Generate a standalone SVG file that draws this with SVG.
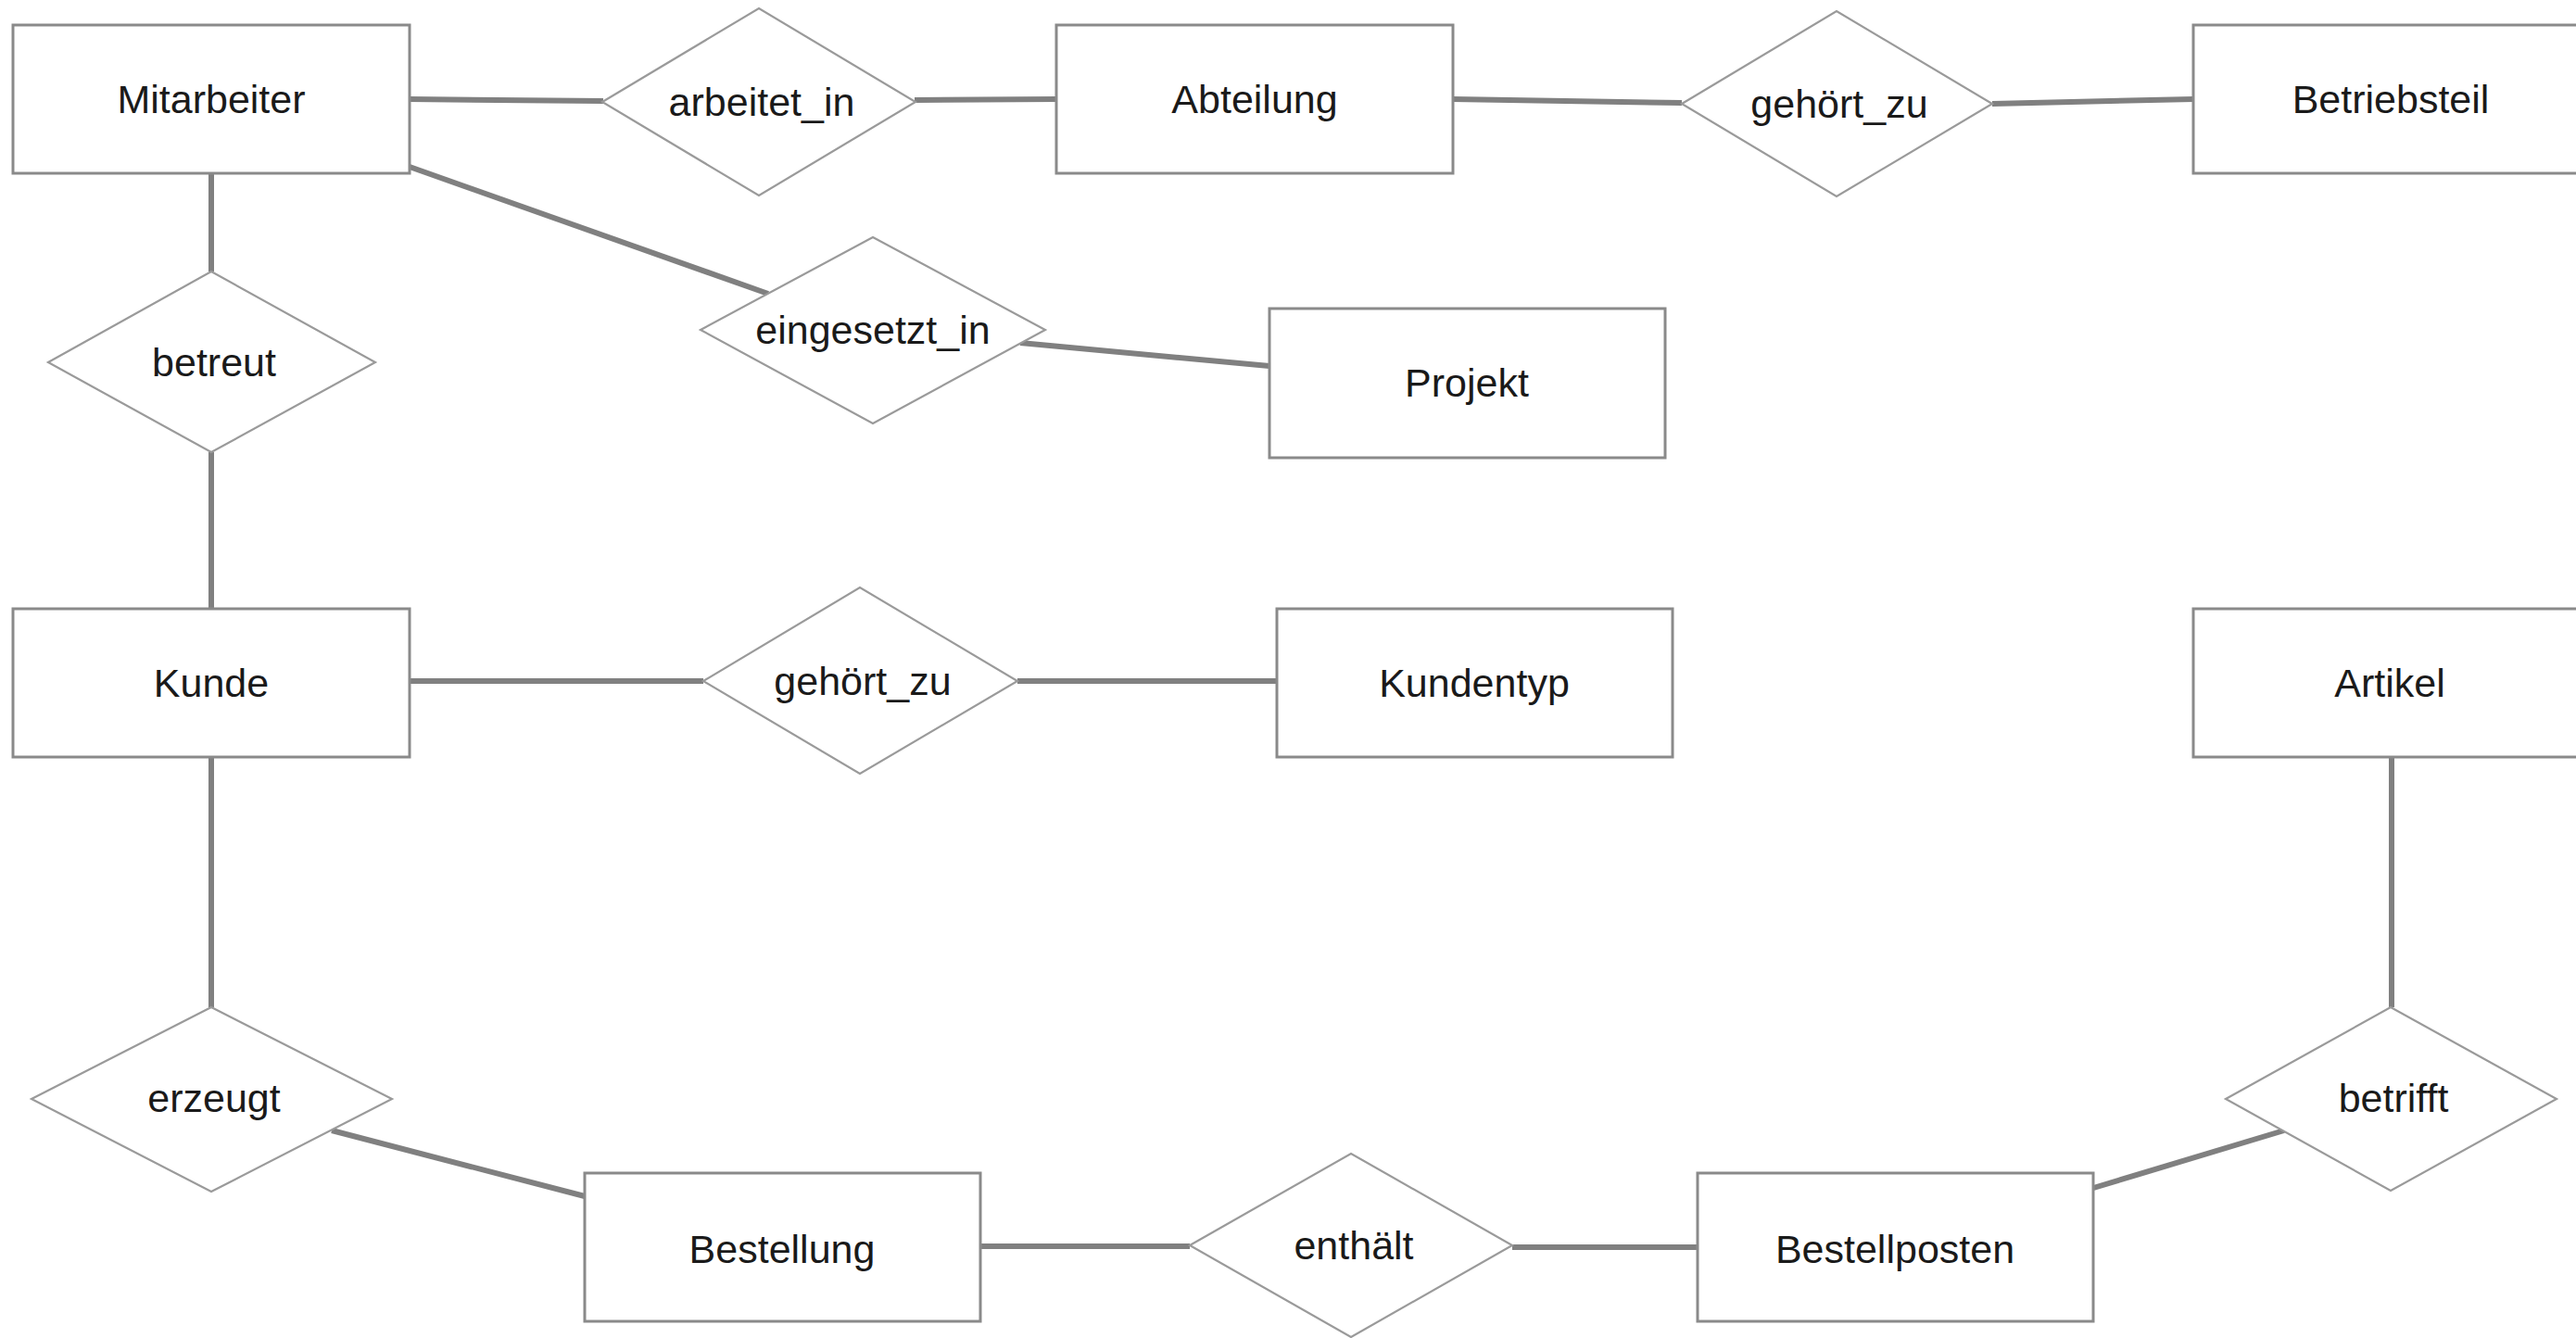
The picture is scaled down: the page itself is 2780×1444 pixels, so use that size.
<svg xmlns="http://www.w3.org/2000/svg" width="2780" height="1444" viewBox="0 0 2780 1444">
  <style>
    .entity rect { fill: #ffffff; stroke: #8a8a8a; stroke-width: 3; }
    .relation polygon { fill: #ffffff; stroke: #9a9a9a; stroke-width: 2.2; }
    text { font-family: "Liberation Sans", Arial, Helvetica, sans-serif; font-size: 43px; fill: #1a1a1a; text-anchor: middle; }
    #connectors line { stroke: #808080; stroke-width: 6; stroke-linecap: butt; }
  </style>
  <rect x="0" y="0" width="2780" height="1444" fill="#ffffff"/>

  <!-- relationship lines -->
  <g id="connectors">
    <line x1="442" y1="107" x2="651" y2="109"/>
    <line x1="987" y1="108" x2="1140" y2="107"/>
    <line x1="1568" y1="107" x2="1815" y2="111"/>
    <line x1="2150" y1="112" x2="2367" y2="107"/>
    <line x1="228" y1="187" x2="228" y2="293"/>
    <line x1="228" y1="488" x2="228" y2="657"/>
    <line x1="442" y1="180" x2="829" y2="317"/>
    <line x1="1101" y1="370" x2="1370" y2="395"/>
    <line x1="442" y1="735" x2="759" y2="735"/>
    <line x1="1098" y1="735" x2="1378" y2="735"/>
    <line x1="228" y1="817" x2="228" y2="1087"/>
    <line x1="358" y1="1220" x2="631" y2="1291"/>
    <line x1="1058" y1="1345" x2="1284" y2="1345"/>
    <line x1="1632" y1="1346" x2="1832" y2="1346"/>
    <line x1="2256" y1="1283" x2="2465" y2="1220"/>
    <line x1="2581" y1="817" x2="2581" y2="1087"/>
  </g>

  <!-- entities -->
  <g id="mitarbeiter" class="entity">
    <rect x="14" y="27" width="428" height="160"/>
    <text x="228" y="122">Mitarbeiter</text>
  </g>
  <g id="abteilung" class="entity">
    <rect x="1140" y="27" width="428" height="160"/>
    <text x="1354" y="122">Abteilung</text>
  </g>
  <g id="betriebsteil" class="entity">
    <rect x="2367" y="27" width="428" height="160"/>
    <text x="2580" y="122">Betriebsteil</text>
  </g>
  <g id="projekt" class="entity">
    <rect x="1370" y="333" width="427" height="161"/>
    <text x="1583" y="428">Projekt</text>
  </g>
  <g id="kunde" class="entity">
    <rect x="14" y="657" width="428" height="160"/>
    <text x="228" y="752">Kunde</text>
  </g>
  <g id="kundentyp" class="entity">
    <rect x="1378" y="657" width="427" height="160"/>
    <text x="1591" y="752">Kundentyp</text>
  </g>
  <g id="artikel" class="entity">
    <rect x="2367" y="657" width="428" height="160"/>
    <text x="2579" y="752">Artikel</text>
  </g>
  <g id="bestellung" class="entity">
    <rect x="631" y="1266" width="427" height="160"/>
    <text x="844" y="1363">Bestellung</text>
  </g>
  <g id="bestellposten" class="entity">
    <rect x="1832" y="1266" width="427" height="160"/>
    <text x="2045" y="1363">Bestellposten</text>
  </g>

  <!-- relationships -->
  <g id="arbeitet_in" class="relation">
    <polygon points="650,110 819,9 988,110 819,211"/>
    <text x="822" y="125">arbeitet_in</text>
  </g>
  <g id="gehoert_zu_betriebsteil" class="relation">
    <polygon points="1815,112 1982,12 2150,112 1982,212"/>
    <text x="1985" y="127">gehört_zu</text>
  </g>
  <g id="betreut" class="relation">
    <polygon points="52,391 228,293 405,391 228,488"/>
    <text x="231" y="406">betreut</text>
  </g>
  <g id="eingesetzt_in" class="relation">
    <polygon points="756,356 942,256 1128,356 942,457"/>
    <text x="942" y="371">eingesetzt_in</text>
  </g>
  <g id="gehoert_zu_kundentyp" class="relation">
    <polygon points="759,735 928,634 1098,735 928,835"/>
    <text x="931" y="750">gehört_zu</text>
  </g>
  <g id="erzeugt" class="relation">
    <polygon points="34,1186 228,1087 423,1186 228,1286"/>
    <text x="231" y="1200">erzeugt</text>
  </g>
  <g id="enthaelt" class="relation">
    <polygon points="1284,1344 1458,1245 1632,1344 1458,1443"/>
    <text x="1461" y="1359">enthält</text>
  </g>
  <g id="betrifft" class="relation">
    <polygon points="2402,1186 2580,1087 2759,1186 2580,1285"/>
    <text x="2583" y="1200">betrifft</text>
  </g>
</svg>
